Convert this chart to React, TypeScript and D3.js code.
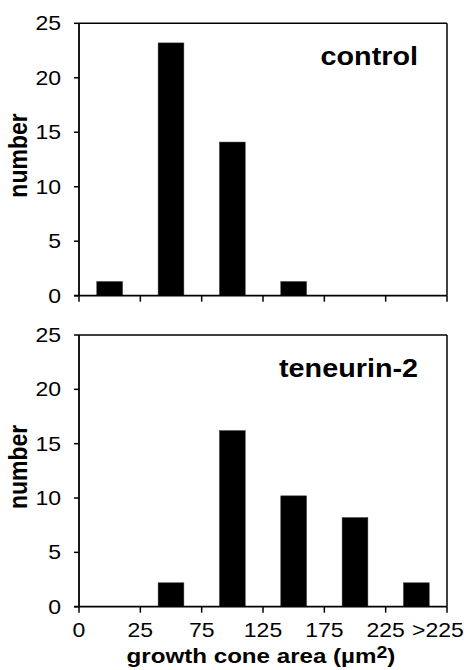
import React from "react";
import * as d3 from "d3";

const bins = ["0", "25", "75", "125", "175", "225", ">225"];
const binIndex = [0, 1, 2, 3, 4, 5];
const controlValues = [1.3, 23.2, 14.1, 1.3, 0, 0];
const teneurinValues = [0, 2.2, 16.2, 10.2, 8.2, 2.2];
const yTicks = [0, 5, 10, 15, 20, 25];

const W = 464;
const H = 670;
const left = 79;
const right = 447;
const SX = 1.15;
const FONT = "'Liberation Sans', Arial, Helvetica, sans-serif";

const xBand = d3
  .scaleBand<number>()
  .domain(binIndex)
  .range([left, right])
  .paddingInner(0.58)
  .paddingOuter(0.29);
const xEdge = d3.scaleLinear().domain([0, 6]).range([left, right]);

function Panel({ top, bottom, values, label, showLabels }: { top: number; bottom: number; values: number[]; label: string; showLabels: boolean }) {
  const y = d3.scaleLinear().domain([0, 25]).range([bottom, top]);
  const edges = d3.range(0, 7);
  return (
    <g>
      {values.map((v, i) =>
        v > 0 ? (
          <rect key={i} x={xBand(i)} y={y(v)} width={xBand.bandwidth()} height={y(0) - y(v)} fill="#000" stroke="#333" strokeWidth={0.5} />
        ) : null
      )}
      <line x1={left} x2={right} y1={top} y2={top} stroke="#000" strokeWidth={1.5} />
      <line x1={right} x2={right} y1={top} y2={bottom} stroke="#000" strokeWidth={1.5} />
      <line x1={left} x2={left} y1={top} y2={bottom} stroke="#000" strokeWidth={1.8} />
      <line x1={left - 5} x2={right} y1={bottom} y2={bottom} stroke="#000" strokeWidth={1.8} />
      {yTicks.map((t) => (
        <g key={t}>
          <line x1={left - 5} x2={left} y1={y(t)} y2={y(t)} stroke="#000" strokeWidth={1.5} />
          <text
            transform={`translate(${left - 18},${y(t)}) scale(${SX},1)`}
            textAnchor="end"
            dominantBaseline="central"
            fontFamily={FONT}
            fontSize={20}
            fill="#000"
          >
            {t}
          </text>
        </g>
      ))}
      {edges.map((e) => (
        <line key={e} x1={xEdge(e)} x2={xEdge(e)} y1={bottom} y2={bottom + 6} stroke="#000" strokeWidth={1.5} />
      ))}
      {showLabels &&
        bins.map((b, i) => (
          <text
            key={b}
            transform={`translate(${xEdge(i) + (i === 6 ? -9 : 0)},${bottom + 30}) scale(${SX},1)`}
            textAnchor="middle"
            fontFamily={FONT}
            fontSize={20}
            fill="#000"
          >
            {b}
          </text>
        ))}
      <text
        transform={`translate(${418},${top + 42}) scale(${SX},1)`}
        textAnchor="end"
        fontFamily={FONT}
        fontWeight="bold"
        fontSize={25}
        fill="#000"
      >
        {label}
      </text>
      <text
        transform={`translate(${27},${(top + bottom) / 2 - 4}) rotate(-90) scale(1,${SX})`}
        textAnchor="middle"
        fontFamily={FONT}
        fontWeight="bold"
        fontSize={23}
        fill="#000"
      >
        number
      </text>
    </g>
  );
}

export default function App() {
  return (
    <svg width={W} height={H} style={{ position: "absolute", left: 0, top: 0, background: "#fff" }}>
      <rect width={W} height={H} fill="#fff" />
      <Panel top={23.3} bottom={295.7} values={controlValues} label="control" showLabels={false} />
      <Panel top={335} bottom={606.7} values={teneurinValues} label="teneurin-2" showLabels={true} />
      <text
        transform={`translate(${261},${663}) scale(${SX},1)`}
        textAnchor="middle"
        fontFamily={FONT}
        fontWeight="bold"
        fontSize={21}
        fill="#000"
      >
        growth cone area (µm<tspan fontSize={17} dy={-5}>2</tspan>
        <tspan dy={5}>)</tspan>
      </text>
    </svg>
  );
}
